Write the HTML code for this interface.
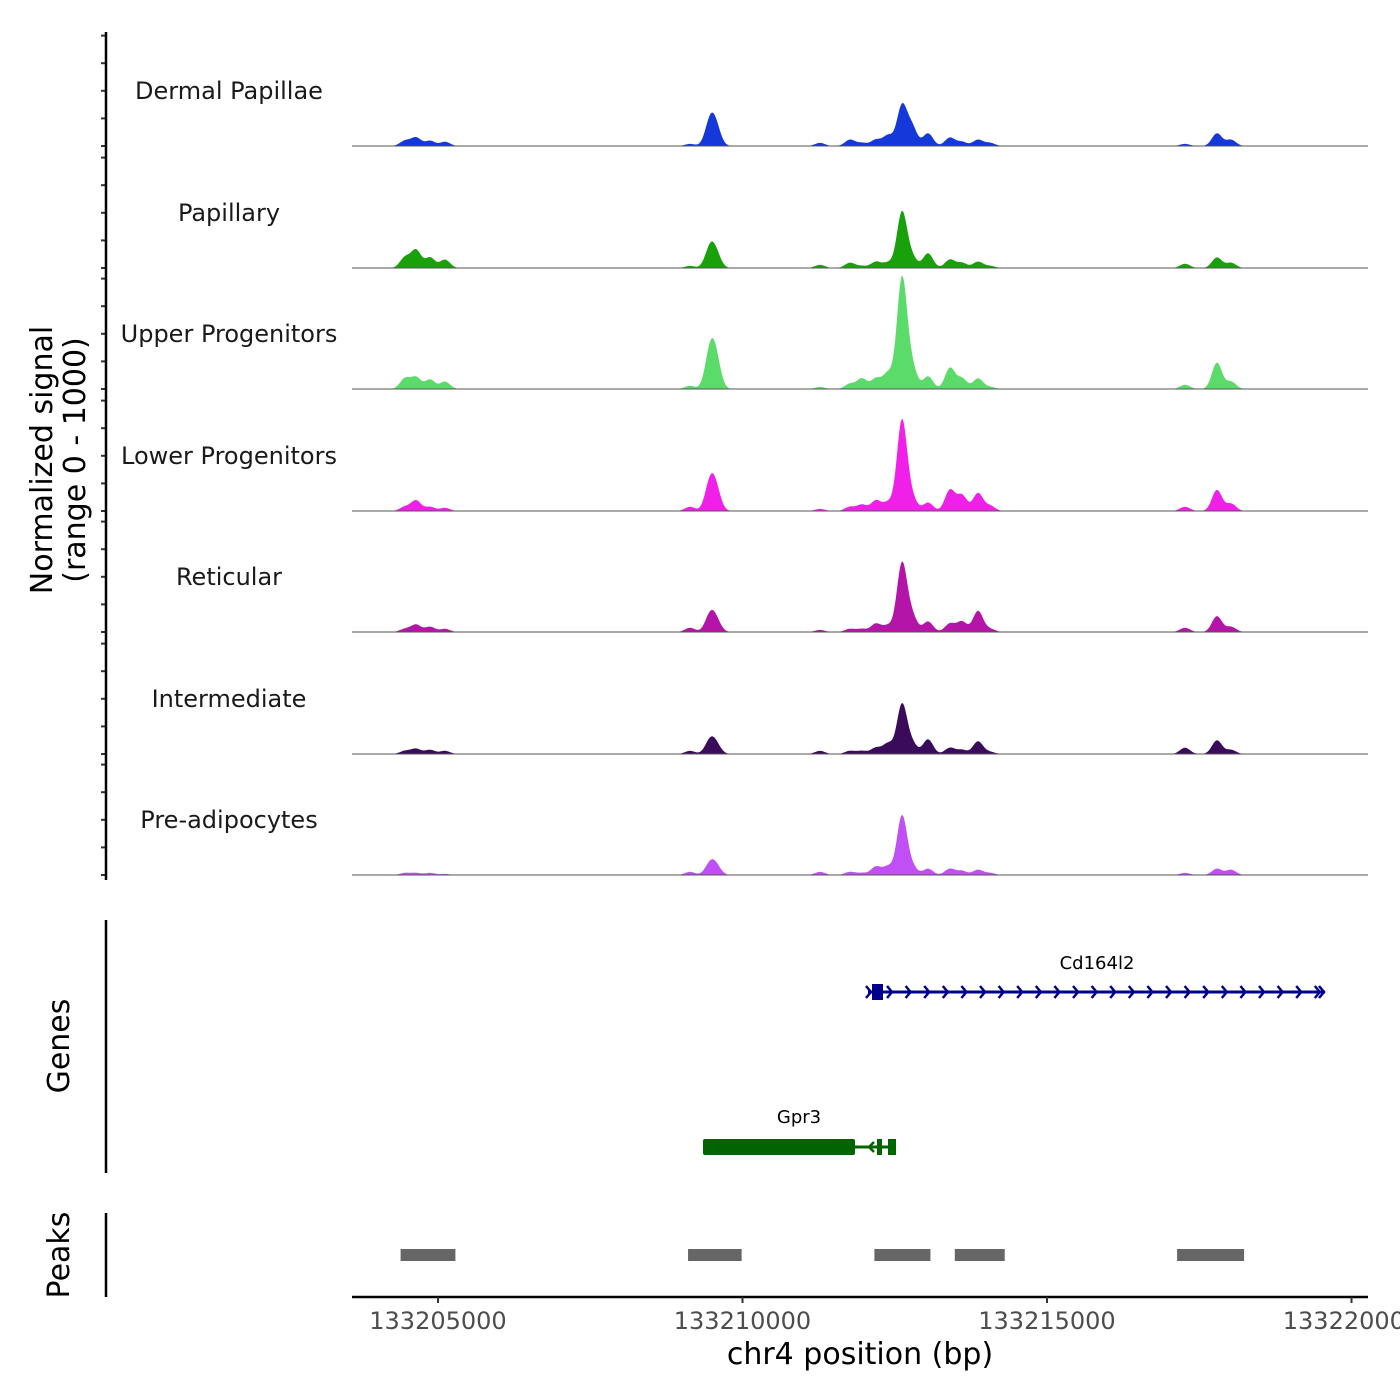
<!DOCTYPE html>
<html><head><meta charset="utf-8"><style>
body{margin:0;background:#fff;}
svg{display:block;font-family:"DejaVu Sans","Liberation Sans",sans-serif;}
</style></head><body>
<svg id="chart" width="1400" height="1400" viewBox="0 0 1400 1400">
<g id="tracks"></g>
<g id="axes"></g>
<g id="genes">
  <text x="1097" y="969" font-size="18" text-anchor="middle" fill="#000">Cd164l2</text>
  <text x="799" y="1123" font-size="18" text-anchor="middle" fill="#000">Gpr3</text>
</g>
<g id="peaks"></g>
</svg>
<script>
const trackNames = ["Dermal Papillae","Papillary","Upper Progenitors","Lower Progenitors","Reticular","Intermediate","Pre-adipocytes"];
const trackColors = ["#1538da","#18a10a","#5bdb6a","#f020e8","#b514a8","#3a0b5a","#c050f5"];
const peakPositions = [133204458,133204639,133204869,133205115,133209138,133209466,133209565,133211273,133211765,133211962,133212192,133212389,133212619,133212783,133213046,133213407,133213604,133213867,133214064,133217266,133217791,133218021];
const dermalValues = [5,8,5,4,2,22,16,3,6,3,6,10,38,18,12,8,4,6,3,2,12,6];
const papillaryValues = [10,17,10,8,2,18,12,3,5,2,6,5,53,10,14,8,5,6,2,4,10,5];
const upperValues = [10,11,9,7,3,33,25,2,5,10,10,15,105,20,12,20,10,10,2,4,25,7];
const lowerValues = [4,10,4,3,4,25,18,2,4,6,10,8,86,12,8,20,15,17,5,4,20,7];
const reticularValues = [3,7,5,3,4,15,10,2,3,3,8,6,65,15,10,8,10,20,3,4,15,5];
const intermediateValues = [3,5,4,3,3,12,8,3,3,3,6,10,47,10,14,6,4,12,2,6,13,4];
const preadipoValues = [2,2,2,1,3,10,8,3,3,2,8,8,56,8,6,6,4,5,2,2,6,5];
const seriesValues = [dermalValues,papillaryValues,upperValues,lowerValues,reticularValues,intermediateValues,preadipoValues];
const xTicks = [133205000,133210000,133215000,133220000];
const peakRegions = [[133204386,133205286],[133209106,133209986],[133212166,133213086],[133213486,133214306],[133217136,133218236]];

const NS="http://www.w3.org/2000/svg";
const X0=352,X1=1368,DMIN=133203588,DMAX=133220271;
const xs = v => X0 + (v-DMIN)/(DMAX-DMIN)*(X1-X0);
const baselines=[146,268,389,511,632,754,875];
const ys = (b,v) => b - v*1.05;
function mk(tag,attrs,parent){const e=document.createElementNS(NS,tag);for(const k in attrs)e.setAttribute(k,attrs[k]);parent.appendChild(e);return e;}
const tracks=document.getElementById('tracks'), axes=document.getElementById('axes'), peaksG=document.getElementById('peaks'), genes=document.getElementById('genes');
const sig=5;
seriesValues.forEach((vals,t)=>{
  const b=baselines[t];
  const xa=xs(peakPositions[0])-15, xb=xs(peakPositions[peakPositions.length-1])+15;
  let d=`M${xa},${b}`;
  for(let x=xa;x<=xb;x+=1){
    let s=0;
    peakPositions.forEach((p,i)=>{const dx=x-xs(p);s+=vals[i]*Math.exp(-dx*dx/(2*sig*sig));});
    d+=`L${x},${ys(b,s).toFixed(1)}`;
  }
  d+=`L${xb},${b}Z`;
  const p=mk('path',{d:d,fill:trackColors[t]},tracks);
  
  
  const l=mk('line',{x1:X0,x2:X1,y1:b,y2:b,stroke:'#555','stroke-width':1},tracks);
  
  
  const tx=mk('text',{x:229,y:b-47,'font-size':24,'text-anchor':'middle',fill:'#1a1a1a'},tracks);
  tx.textContent=trackNames[t];
  
  
  for(let k=0;k<5;k++){
    const tk=mk('line',{x1:101,x2:106,y1:b-k*27.6,y2:b-k*27.6,stroke:'#333','stroke-width':2},axes);
    
    
  }
});
mk('line',{x1:106,x2:106,y1:32,y2:880,stroke:'#000','stroke-width':2.5},axes);
mk('line',{x1:106,x2:106,y1:920,y2:1173,stroke:'#000','stroke-width':2.5},axes);
mk('line',{x1:106,x2:106,y1:1213,y2:1297,stroke:'#000','stroke-width':2.5},axes);
mk('line',{x1:X0,x2:X1,y1:1297,y2:1297,stroke:'#000','stroke-width':2.5},axes);
xTicks.forEach(v=>{
  const tk=mk('line',{x1:xs(v),x2:xs(v),y1:1297,y2:1303,stroke:'#333','stroke-width':2},axes);
  
  
  const tl=mk('text',{x:xs(v),y:1329,'font-size':24,'text-anchor':'middle',fill:'#4d4d4d'},axes);
  tl.textContent=String(v);
  
  
});
let t1=mk('text',{x:860,y:1364,'font-size':30,'text-anchor':'middle',fill:'#000'},axes);t1.textContent='chr4 position (bp)';


let yt=mk('text',{transform:'translate(52,460) rotate(-90)','font-size':30,'text-anchor':'middle',fill:'#000'},axes);
yt.innerHTML='<tspan x="0" dy="0">Normalized signal</tspan><tspan x="0" dy="33">(range 0 - 1000)</tspan>';


let gt=mk('text',{transform:'translate(69,1046) rotate(-90)','font-size':30,'text-anchor':'middle',fill:'#000'},axes);gt.textContent='Genes';


let pt=mk('text',{transform:'translate(69,1255) rotate(-90)','font-size':30,'text-anchor':'middle',fill:'#000'},axes);pt.textContent='Peaks';


peakRegions.forEach(r=>{
  const rc=mk('rect',{x:xs(r[0]),y:1249,width:xs(r[1])-xs(r[0]),height:12,fill:'#666'},peaksG);
  
  
});
mk('line',{x1:868,x2:1325,y1:992,y2:992,stroke:'#00008b','stroke-width':3},genes);
mk('rect',{x:872,y:984,width:11,height:16,fill:'#00008b'},genes);
for(let x=887;x<=1320;x+=18.6){mk('path',{d:`M${x},986 L${x+5},992 L${x},998`,stroke:'#00008b','stroke-width':2.5,fill:'none'},genes);}
mk('path',{d:'M1319,986 L1324,992 L1319,998',stroke:'#00008b','stroke-width':2.5,fill:'none'},genes);
mk('path',{d:'M866,986 L871,992 L866,998',stroke:'#00008b','stroke-width':2.5,fill:'none'},genes);
mk('line',{x1:703,x2:895,y1:1147,y2:1147,stroke:'#006400','stroke-width':3},genes);
mk('rect',{x:703,y:1139,width:152,height:16,fill:'#006400',rx:2},genes);
mk('rect',{x:877,y:1139,width:5,height:16,fill:'#006400'},genes);
mk('rect',{x:888,y:1139,width:8,height:16,fill:'#006400'},genes);
mk('path',{d:'M874,1142 L869,1147 L874,1152',stroke:'#006400','stroke-width':2.5,fill:'none'},genes);
</script>
</body></html>
